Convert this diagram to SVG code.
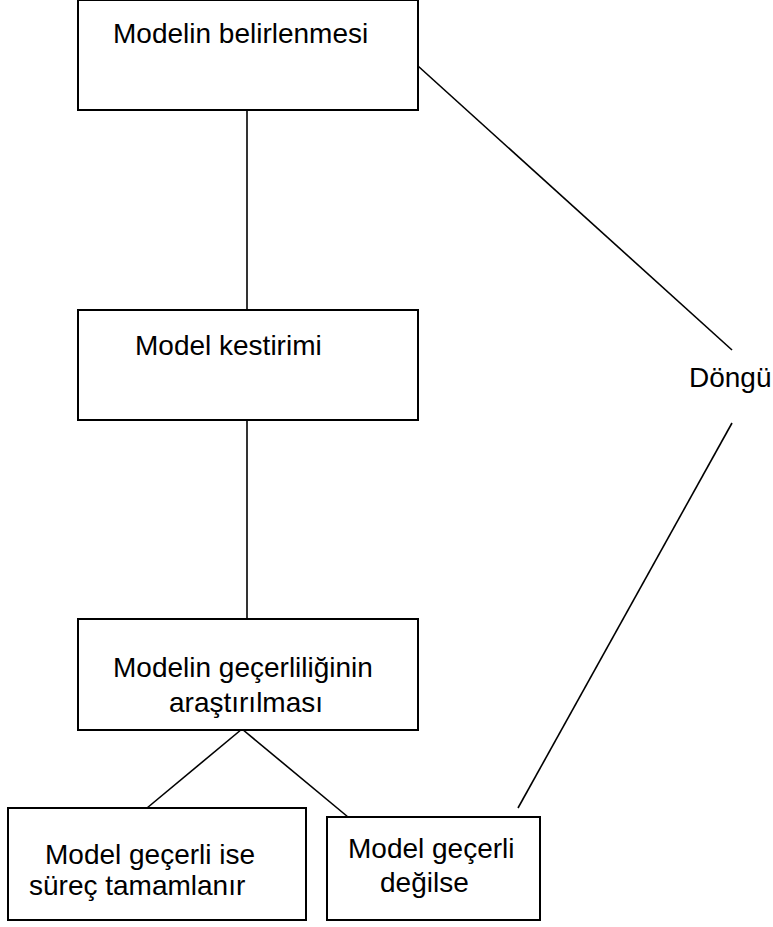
<svg xmlns="http://www.w3.org/2000/svg" width="773" height="927" viewBox="0 0 773 927">
<style>
.box{fill:#fff;stroke:#000;stroke-width:2}
.t{font-family:"Liberation Sans",Arial,sans-serif;font-size:28px;fill:#000}
.c{stroke:#000;stroke-width:1.6;fill:none}
</style>
<rect width="773" height="927" fill="#fff"/>
<g id="connectors">
<line class="c" x1="247" y1="110" x2="247" y2="310" stroke-width="2"/>
<line class="c" x1="247" y1="420" x2="247" y2="619" stroke-width="2"/>
<line class="c" x1="242" y1="729" x2="147" y2="808"/>
<line class="c" x1="242" y1="729" x2="348" y2="817"/>
<line class="c" x1="418" y1="66" x2="732" y2="350"/>
<line class="c" x1="732" y1="423" x2="518" y2="808"/>
</g>
<g id="node1">
<rect class="box" x="78" y="0" width="340" height="110"/>
<text class="t" x="113" y="43">Modelin belirlenmesi</text>
</g>
<g id="node2">
<rect class="box" x="78" y="310" width="340" height="110"/>
<text class="t" x="135" y="355">Model kestirimi</text>
</g>
<g id="node3">
<rect class="box" x="78" y="619" width="340" height="111"/>
<text class="t" x="113" y="677">Modelin geçerliliğinin</text>
<text class="t" x="169" y="712">araştırılması</text>
</g>
<g id="node4">
<rect class="box" x="8" y="808" width="298" height="112"/>
<text class="t" x="45" y="864">Model geçerli ise</text>
<text class="t" x="29" y="895">süreç tamamlanır</text>
</g>
<g id="node5">
<rect class="box" x="327" y="817" width="213" height="103"/>
<text class="t" x="348" y="858">Model geçerli</text>
<text class="t" x="380" y="892">değilse</text>
</g>
<g id="label-dongu">
<text class="t" x="689" y="387">Döngü</text>
</g>
</svg>
